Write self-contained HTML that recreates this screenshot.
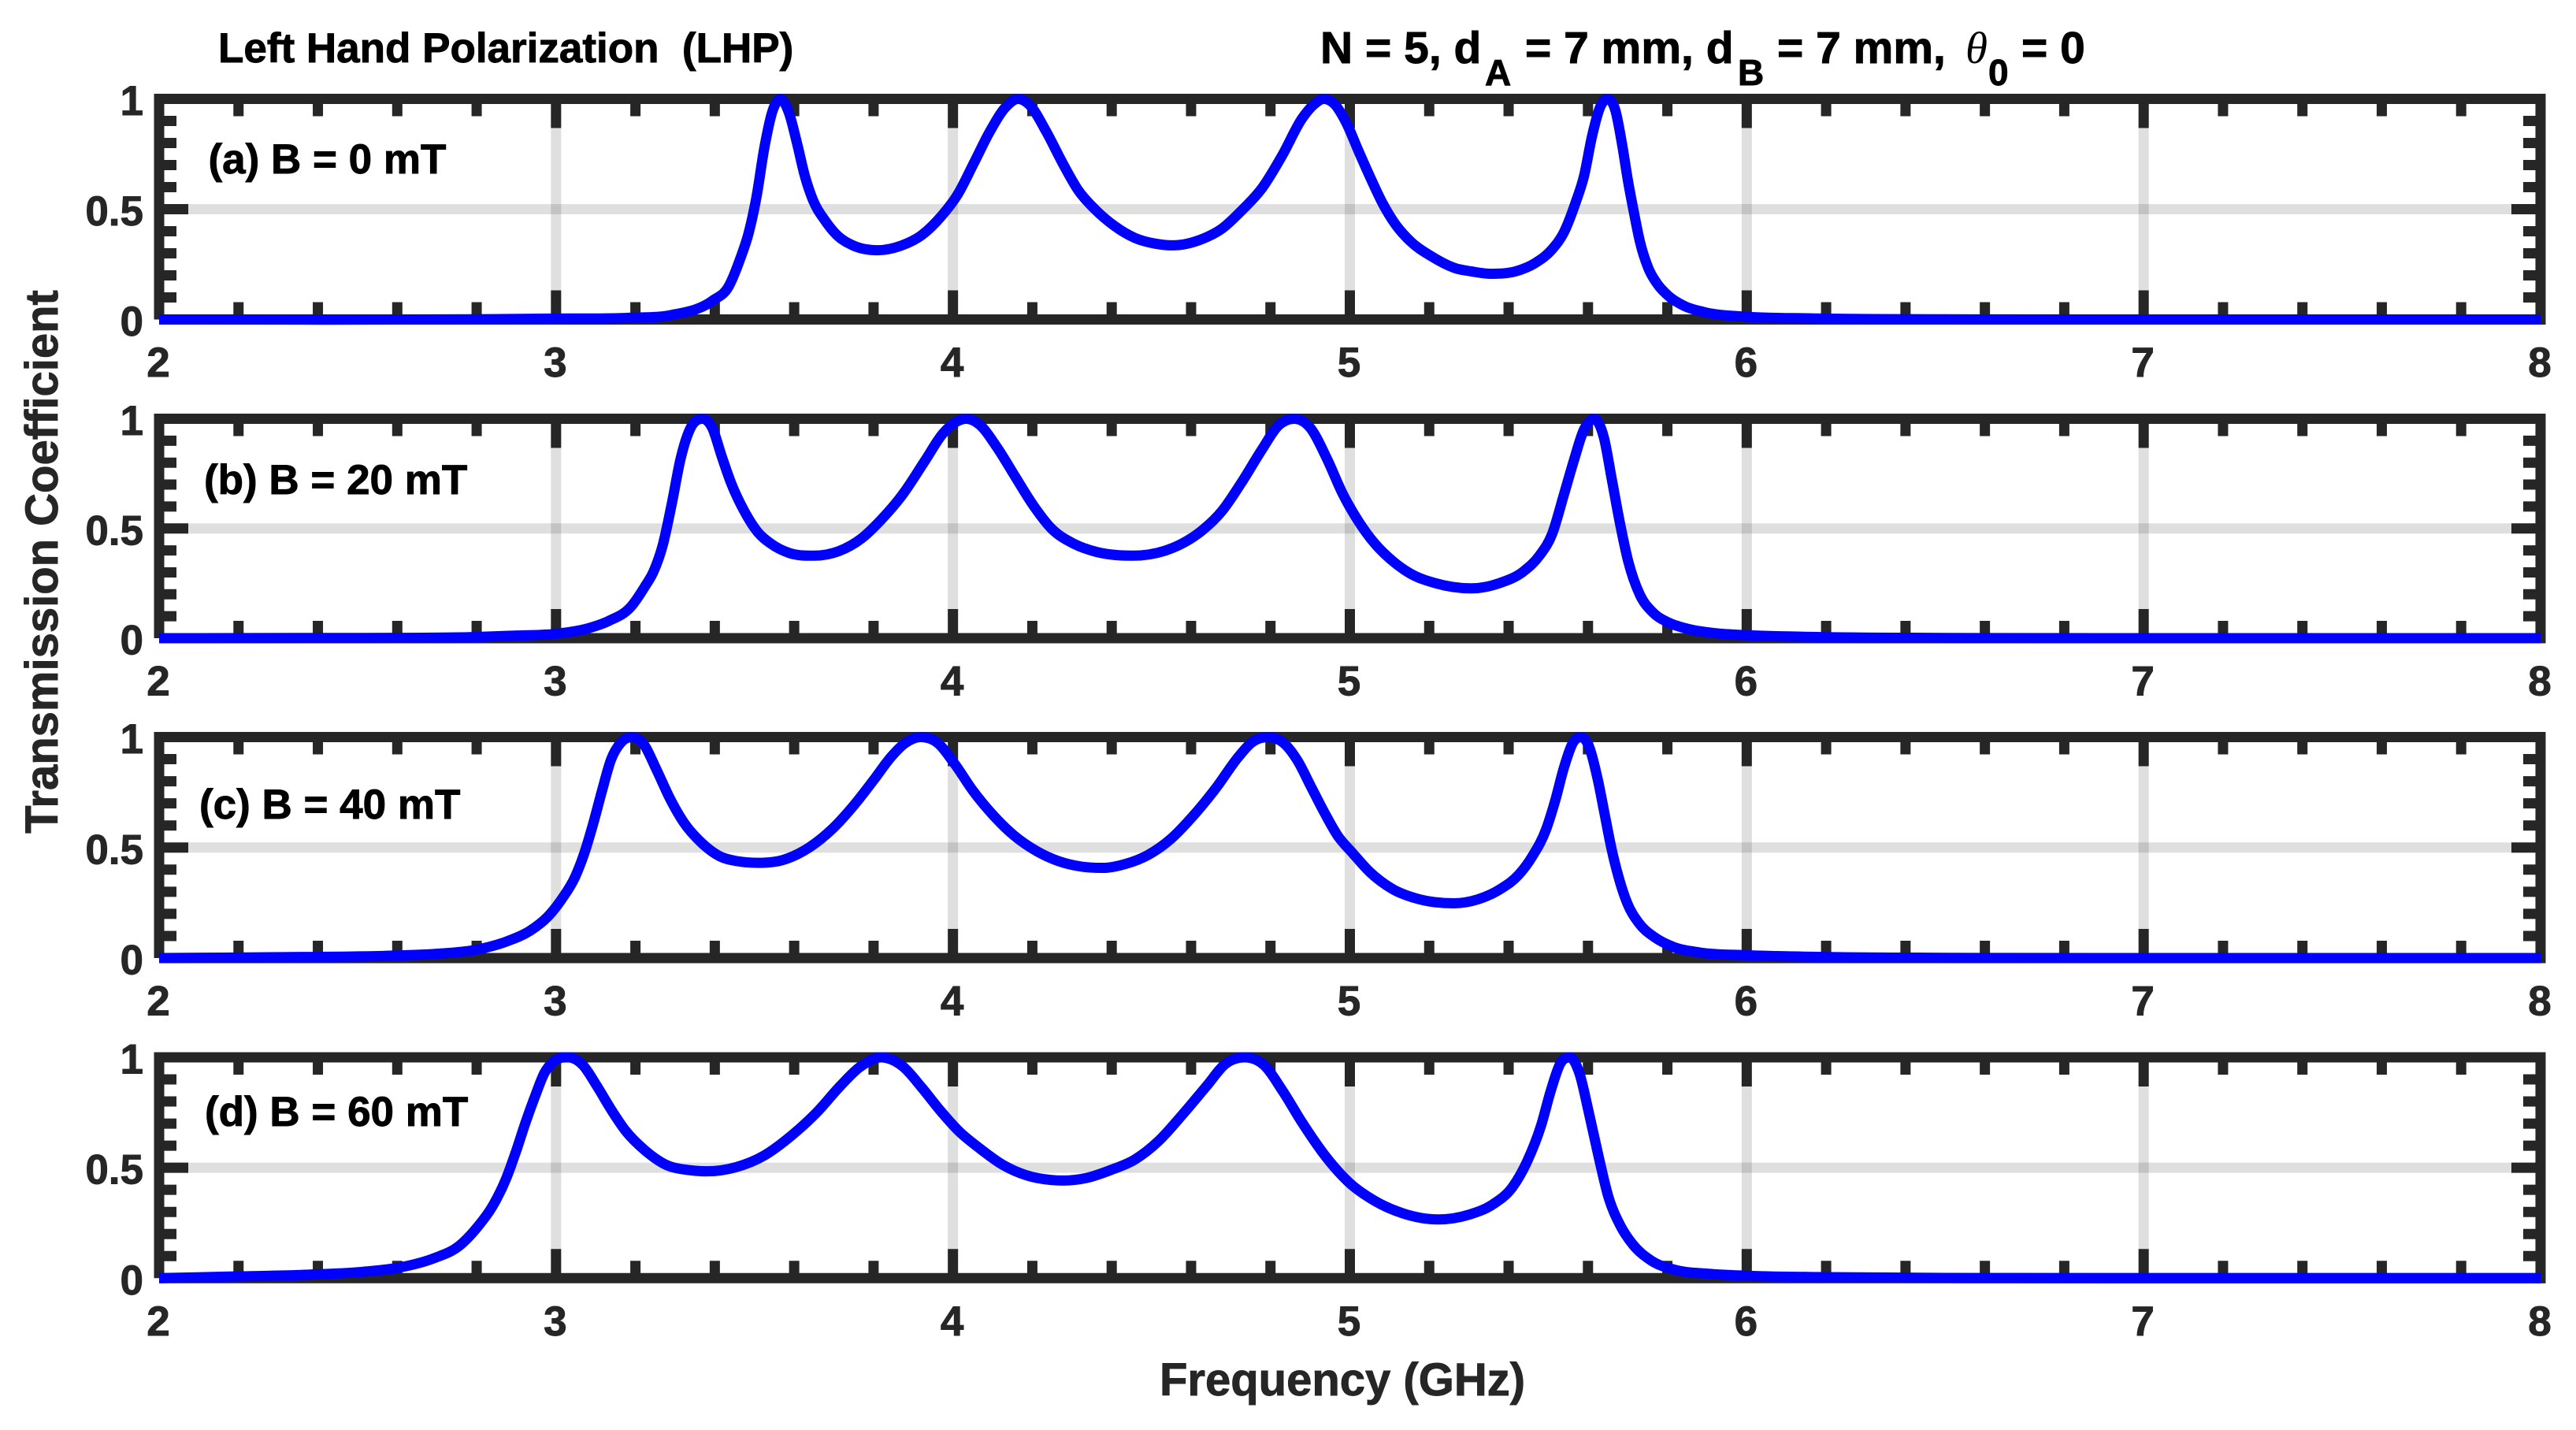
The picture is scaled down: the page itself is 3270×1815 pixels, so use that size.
<!DOCTYPE html>
<html lang="en">
<head>
<meta charset="utf-8">
<title>Left Hand Polarization Transmission Coefficient</title>
<style>
html,body{margin:0;padding:0;background:#fff;}
svg{display:block;}
text{font-family:"Liberation Sans",Arial,sans-serif;font-weight:700;stroke-width:0.9px;}
</style>
</head>
<body>
<svg id="chart" xmlns="http://www.w3.org/2000/svg" width="3270" height="1815" viewBox="0 0 3270 1815">
  <rect x="0" y="0" width="3270" height="1815" fill="#ffffff"/>
  <g id="panels"></g>
  <text x="277" y="79" font-size="53" fill="#000" stroke="#000" xml:space="preserve">Left Hand Polarization&#160;&#160;(LHP)</text>
  <g fill="#000" stroke="#000">
    <text x="1676" y="80" font-size="57">N = 5, d</text>
    <text x="1885" y="108" font-size="46">A</text>
    <text x="1936" y="80" font-size="57">= 7 mm, d</text>
    <text x="2206" y="108" font-size="46">B</text>
    <text x="2256" y="80" font-size="57">= 7 mm,</text>
    <text x="2495" y="80" font-size="57" stroke="none" style="font-family:'Liberation Serif',serif;font-style:italic;font-weight:400">θ</text>
    <text x="2524" y="108" font-size="46">0</text>
    <text x="2566" y="80" font-size="57">= 0</text>
  </g>
  <text transform="translate(73 713) rotate(-90)" text-anchor="middle" font-size="58" fill="#262626" stroke="#262626">Transmission Coefficient</text>
  <text x="1704" y="1771" text-anchor="middle" font-size="58" fill="#262626" stroke="#262626">Frequency (GHz)</text>
</svg>
<script>
const xTickLabels = [2, 3, 4, 5, 6, 7, 8];
const yTickLabels = [0, 0.5, 1];
const panelNames = ['a', 'b', 'c', 'd'];
const panelLabels = ['(a) B = 0 mT', '(b) B = 20 mT', '(c) B = 40 mT', '(d) B = 60 mT'];

const freqA = [2,2.8,2.99,3.19,3.29,3.394,3.435,3.465,3.485,3.505,3.525,3.546,3.565,3.587,3.607,3.627,3.647,3.678,3.708,3.749,3.811,3.87,3.921,3.972,4.012,4.053,4.093,4.134,4.164,4.194,4.235,4.276,4.316,4.357,4.407,4.458,4.509,4.554,4.627,4.678,4.728,4.779,4.83,4.88,4.911,4.934,4.961,4.992,5.022,5.053,5.083,5.113,5.154,5.205,5.265,5.306,5.357,5.417,5.468,5.509,5.539,5.569,5.59,5.61,5.63,5.649,5.669,5.686,5.701,5.716,5.731,5.752,5.772,5.802,5.843,5.894,5.995,6.165,6.5,7,8];
const transA = [0,0.001,0.004,0.008,0.02,0.085,0.15,0.28,0.39,0.555,0.78,0.948,1,0.936,0.8,0.65,0.543,0.448,0.382,0.335,0.314,0.335,0.382,0.471,0.567,0.71,0.852,0.965,1,0.971,0.852,0.71,0.585,0.501,0.424,0.37,0.344,0.336,0.364,0.412,0.495,0.596,0.745,0.912,0.977,1,0.977,0.888,0.763,0.638,0.525,0.436,0.352,0.287,0.233,0.218,0.207,0.218,0.257,0.317,0.394,0.531,0.65,0.829,0.96,1,0.948,0.793,0.626,0.483,0.352,0.233,0.168,0.108,0.061,0.033,0.013,0.005,0.001,0,0];

const freqB = [2,2.5,2.79,2.904,3,3.075,3.132,3.189,3.223,3.246,3.269,3.292,3.314,3.337,3.369,3.394,3.417,3.44,3.474,3.508,3.542,3.588,3.65,3.713,3.77,3.815,3.872,3.929,3.975,4.009,4.034,4.066,4.112,4.157,4.203,4.248,4.305,4.362,4.453,4.533,4.576,4.627,4.678,4.728,4.779,4.82,4.86,4.901,4.942,4.982,5.022,5.063,5.103,5.154,5.215,5.306,5.377,5.438,5.478,5.509,5.539,5.564,5.59,5.615,5.64,5.66,5.681,5.701,5.731,5.762,5.802,5.853,5.924,5.995,6.165,6.5,7,8];
const transB = [0,0.001,0.005,0.012,0.02,0.042,0.078,0.144,0.233,0.305,0.425,0.616,0.819,0.951,1,0.957,0.831,0.712,0.58,0.484,0.43,0.388,0.376,0.397,0.455,0.532,0.652,0.807,0.933,0.987,1,0.975,0.867,0.736,0.604,0.5,0.43,0.393,0.376,0.398,0.43,0.49,0.58,0.712,0.861,0.969,1,0.957,0.819,0.658,0.532,0.431,0.359,0.293,0.251,0.227,0.251,0.305,0.377,0.472,0.652,0.807,0.951,1,0.915,0.724,0.52,0.353,0.197,0.12,0.072,0.042,0.022,0.014,0.006,0.001,0,0];

const freqC = [2,2.3,2.592,2.706,2.797,2.877,2.934,2.98,3.014,3.048,3.071,3.093,3.116,3.139,3.162,3.19,3.219,3.253,3.287,3.321,3.367,3.412,3.458,3.509,3.572,3.64,3.697,3.754,3.8,3.845,3.879,3.919,3.959,4.005,4.05,4.096,4.153,4.21,4.267,4.323,4.378,4.435,4.492,4.549,4.606,4.663,4.72,4.754,4.794,4.834,4.868,4.902,4.936,4.97,5.005,5.05,5.107,5.175,5.261,5.323,5.38,5.426,5.46,5.494,5.517,5.54,5.563,5.582,5.602,5.625,5.642,5.659,5.677,5.699,5.728,5.768,5.813,5.882,6,6.164,6.5,7,8];
const transC = [0,0.004,0.011,0.02,0.037,0.076,0.123,0.189,0.266,0.367,0.473,0.604,0.758,0.9,0.972,1,0.972,0.853,0.722,0.616,0.521,0.461,0.438,0.431,0.444,0.503,0.586,0.699,0.805,0.912,0.972,1,0.977,0.877,0.758,0.657,0.556,0.485,0.438,0.414,0.408,0.426,0.467,0.539,0.645,0.77,0.912,0.977,1,0.972,0.894,0.776,0.658,0.552,0.479,0.39,0.313,0.266,0.248,0.266,0.313,0.378,0.461,0.58,0.71,0.865,0.977,1,0.96,0.805,0.651,0.497,0.367,0.248,0.159,0.094,0.052,0.025,0.013,0.006,0.001,0,0];

const freqD = [2,2.2,2.394,2.514,2.611,2.695,2.755,2.803,2.839,2.875,2.899,2.923,2.947,2.971,2.995,3.031,3.067,3.103,3.139,3.175,3.224,3.284,3.332,3.38,3.452,3.524,3.596,3.657,3.716,3.764,3.818,3.873,3.921,3.969,4.017,4.065,4.125,4.185,4.245,4.277,4.337,4.398,4.458,4.518,4.578,4.639,4.687,4.735,4.783,4.831,4.88,4.94,5,5.06,5.133,5.223,5.301,5.361,5.41,5.446,5.482,5.506,5.53,5.554,5.578,5.602,5.627,5.651,5.681,5.711,5.759,5.819,5.904,6,6.166,6.5,7,8];
const transD = [0,0.008,0.017,0.029,0.05,0.092,0.145,0.234,0.323,0.454,0.573,0.704,0.823,0.93,0.983,1,0.966,0.87,0.763,0.668,0.579,0.508,0.49,0.484,0.502,0.555,0.65,0.751,0.87,0.954,1,0.96,0.864,0.757,0.662,0.591,0.514,0.466,0.445,0.442,0.454,0.49,0.537,0.621,0.74,0.87,0.971,1,0.966,0.847,0.704,0.549,0.43,0.353,0.294,0.266,0.288,0.335,0.413,0.526,0.692,0.847,0.971,1,0.93,0.751,0.549,0.371,0.24,0.157,0.08,0.038,0.02,0.011,0.005,0.001,0,0];

const seriesFreq = [freqA, freqB, freqC, freqD];
const seriesTrans = [transA, transB, transC, transD];

const SVGNS = 'http://www.w3.org/2000/svg';
const INK = '#262626';
const LW = 13;
const plotLeft = 202, plotRight = 3225;
const panelTop = [125.5, 531.5, 935.5, 1342];
const panelBottom = [405.5, 810, 1216, 1622.3];
const labelX = [264.5, 259, 253, 260];
const labelY = [220, 627, 1039, 1429];
const MINOR = 22, MAJOR = 37;

function xOf(f) { return plotLeft + (f - 2) * (plotRight - plotLeft) / 6; }
function yOf(v, p) { return panelBottom[p] - v * (panelBottom[p] - panelTop[p]); }

function mk(parent, tag, attrs, content) {
  const el = document.createElementNS(SVGNS, tag);
  for (const k in attrs) el.setAttribute(k, attrs[k]);
  if (content !== undefined) el.textContent = content;
  parent.appendChild(el);
  return el;
}
function seg(parent, x1, y1, x2, y2, extra) {
  return mk(parent, 'line', Object.assign({ x1: x1, y1: y1, x2: x2, y2: y2, stroke: INK, 'stroke-width': LW }, extra || {}));
}

/* smooth cubic path through the read data points; flat tangent at local extrema */
function curvePath(fs, vs, p) {
  const xs = fs.map(xOf);
  const ys = vs.map(function (v) { return yOf(v, p); });
  const n = xs.length;
  const d = [];
  for (let i = 0; i < n - 1; i++) d.push((ys[i + 1] - ys[i]) / (xs[i + 1] - xs[i]));
  const m = [d[0]];
  for (let i = 1; i < n - 1; i++) {
    if (d[i - 1] * d[i] <= 0) { m.push(0); continue; }
    const h0 = xs[i] - xs[i - 1], h1 = xs[i + 1] - xs[i];
    m.push((h1 * d[i - 1] + h0 * d[i]) / (h0 + h1));
  }
  m.push(d[n - 2]);
  let out = 'M' + xs[0].toFixed(2) + ' ' + ys[0].toFixed(2);
  for (let i = 0; i < n - 1; i++) {
    const h = (xs[i + 1] - xs[i]) / 3;
    out += 'C' + (xs[i] + h).toFixed(2) + ' ' + (ys[i] + m[i] * h).toFixed(2) + ' ' +
      (xs[i + 1] - h).toFixed(2) + ' ' + (ys[i + 1] - m[i + 1] * h).toFixed(2) + ' ' +
      xs[i + 1].toFixed(2) + ' ' + ys[i + 1].toFixed(2);
  }
  return out;
}

const root = document.getElementById('panels');
panelNames.forEach(function (name, p) {
  const top = panelTop[p], bottom = panelBottom[p];
  const g = mk(root, 'g', {});
  
  

  /* grid */
  xTickLabels.forEach(function (t) {
    if (t === 2 || t === 8) return;
    const l = seg(g, xOf(t), top, xOf(t), bottom, { 'stroke-opacity': 0.15 });
    
    
  });
  const yGrid = seg(g, plotLeft, yOf(0.5, p), plotRight, yOf(0.5, p), { 'stroke-opacity': 0.15 });
  
  

  /* x ticks, every 0.2 GHz, long on labelled ticks */
  for (let i = 1; i < 30; i++) {
    const f = 2 + i * 0.2;
    const len = i % 5 === 0 ? MAJOR : MINOR;
    const a = seg(g, xOf(f), top, xOf(f), top + len);
    
    
    const b = seg(g, xOf(f), bottom, xOf(f), bottom - len);
    
    
  }
  /* y ticks, every 0.1 */
  for (let i = 1; i < 10; i++) {
    const y = yOf(i * 0.1, p);
    const len = i === 5 ? MAJOR : MINOR;
    const a = seg(g, plotLeft, y, plotLeft + len, y);
    
    
    const b = seg(g, plotRight, y, plotRight - len, y);
    
    
  }

  /* axes box */
  const sTop = seg(g, plotLeft - 6.5, top, plotRight + 6.5, top);
  
  
  const sLeft = seg(g, plotLeft, top, plotLeft, bottom);
  
  
  const sBottom = seg(g, plotLeft, bottom, plotRight + 6.5, bottom);
  
  
  const sRight = seg(g, plotRight, top, plotRight, bottom + 6.5);
  
  

  /* tick labels */
  xTickLabels.forEach(function (t) {
    const tl = mk(g, 'text', { x: xOf(t) - 1, y: bottom + 72.5, 'text-anchor': 'middle', 'font-size': 53, fill: INK, stroke: INK }, String(t));
    
    
  });
  yTickLabels.forEach(function (t) {
    const tl = mk(g, 'text', { x: 182, y: yOf(t, p) + 20.5, 'text-anchor': 'end', 'font-size': 53, fill: INK, stroke: INK }, String(t));
    
    
  });

  /* panel label */
  const lab = mk(g, 'text', { x: labelX[p], y: labelY[p], 'font-size': 53, fill: '#000', stroke: '#000' }, panelLabels[p]);
  
  

  /* series */
  const curve = mk(g, 'path', { d: curvePath(seriesFreq[p], seriesTrans[p], p), fill: 'none', stroke: '#0000ff', 'stroke-width': LW, 'stroke-linejoin': 'round', 'stroke-linecap': 'butt' });
  
  
});
</script>
</body>
</html>
